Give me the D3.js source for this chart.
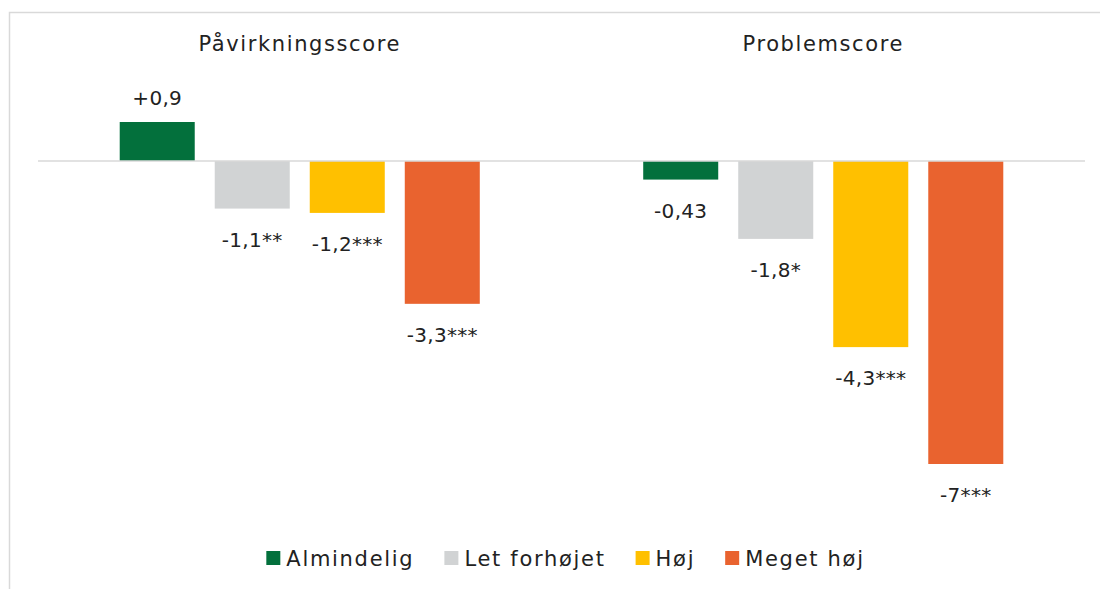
<!DOCTYPE html>
<html>
<head>
<meta charset="utf-8">
<script src="https://cdn.jsdelivr.net/npm/d3@7"></script>
<style>
  body { margin: 0; background: #fff; }
  svg { display: block; font-family: "DejaVu Sans", sans-serif; }
</style>
</head>
<body>
<div id="root"></div>
<script>
const groups = ["Påvirkningsscore", "Problemscore"];
const series = ["Almindelig", "Let forhøjet", "Høj", "Meget høj"];
const colors = ["#03703c", "#d1d3d4", "#ffc000", "#e9632f"];
const pavirkning = [0.9, -1.1, -1.2, -3.3];
const problem = [-0.43, -1.8, -4.3, -7];
const pavirkningLabels = ["+0,9", "-1,1**", "-1,2***", "-3,3***"];
const problemLabels = ["-0,43", "-1,8*", "-4,3***", "-7***"];

const width = 1100;
const height = 589;

const svg = d3.select("#root")
  .append("svg")
  .attr("width", width)
  .attr("height", height);

// frame
svg.append("rect")
  .attr("x", 9.5)
  .attr("y", 12.5)
  .attr("width", 1100)
  .attr("height", 700)
  .attr("fill", "none")
  .attr("stroke", "#d9d9d9")
  .attr("stroke-width", 1.5);

const x0 = d3.scaleBand().domain(groups).range([38, 1085]);
const x1 = d3.scaleBand()
  .domain(series)
  .range([0, x0.bandwidth()])
  .paddingInner(20 / 95)
  .paddingOuter(0.86);
const y = d3.scaleLinear().domain([-7, 0.9]).range([464, 122]);

const rows = [];
groups.forEach((g, gi) => {
  const vals = gi === 0 ? pavirkning : problem;
  const labs = gi === 0 ? pavirkningLabels : problemLabels;
  series.forEach((s, i) => {
    rows.push({ group: g, series: s, value: vals[i], label: labs[i], color: colors[i] });
  });
});

// titles
svg.selectAll("text.title")
  .data(groups)
  .join("text")
  .attr("class", "title")
  .attr("x", (d) => x0(d) + x0.bandwidth() / 2)
  .attr("y", 51)
  .attr("text-anchor", "middle")
  .attr("font-size", 21)
  .attr("letter-spacing", 1.6)
  .attr("fill", "#222")
  .text((d) => d);

// bars
svg.selectAll("rect.bar")
  .data(rows)
  .join("rect")
  .attr("class", "bar")
  .attr("x", (d) => x0(d.group) + x1(d.series))
  .attr("y", (d) => y(Math.max(0, d.value)))
  .attr("width", x1.bandwidth())
  .attr("height", (d) => Math.abs(y(d.value) - y(0)))
  .attr("fill", (d) => d.color);

// zero line
svg.append("line")
  .attr("x1", 38)
  .attr("x2", 1085)
  .attr("y1", y(0))
  .attr("y2", y(0))
  .attr("stroke", "#d9d9d9")
  .attr("stroke-width", 1.5);

// value labels
svg.selectAll("text.value")
  .data(rows)
  .join("text")
  .attr("class", "value")
  .attr("x", (d) => x0(d.group) + x1(d.series) + x1.bandwidth() / 2)
  .attr("y", (d) => d.value >= 0 ? y(d.value) - 17 : y(d.value) + 38)
  .attr("text-anchor", "middle")
  .attr("font-size", 20)
  .attr("letter-spacing", 0.3)
  .attr("fill", "#222")
  .text((d) => d.label);

// legend
const legend = svg.append("g");
let lx = 0;
series.forEach((s, i) => {
  const item = legend.append("g").attr("transform", `translate(${lx},0)`);
  item.append("rect")
    .attr("x", 0)
    .attr("y", -7)
    .attr("width", 14)
    .attr("height", 14)
    .attr("fill", colors[i]);
  const t = item.append("text")
    .attr("x", 20)
    .attr("y", 7.5)
    .attr("font-size", 21)
    .attr("letter-spacing", 1.7)
    .attr("fill", "#222")
    .text(s);
  lx += 20 + t.node().getComputedTextLength() + 30;
});
const legendWidth = lx - 30;
legend.attr("transform", `translate(${565.5 - legendWidth / 2},558)`);
</script>
</body>
</html>
